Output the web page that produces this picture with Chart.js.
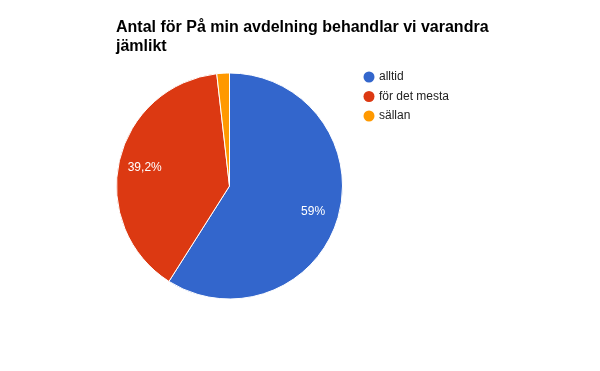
<!DOCTYPE html>
<html>
<head>
<meta charset="utf-8">
<script src="https://cdn.jsdelivr.net/npm/chart.js@4/dist/chart.umd.min.js"></script>
<style>
html,body{margin:0;padding:0;background:#fff;}
#wrap{position:relative;width:600px;height:371px;}
canvas{display:block;}
</style>
</head>
<body>
<div id="wrap"><canvas id="c" width="600" height="371"></canvas></div>
<script>
const titleLines = ["Antal för På min avdelning behandlar vi varandra", "jämlikt"];
const categories = ["alltid", "för det mesta", "sällan"];
const values = [59, 39.2, 1.8];
const valueLabels = ["59%", "39,2%", ""];
const colors = ["#3366cc", "#dc3912", "#ff9900"];

const FONT = '"Liberation Sans", Arial, sans-serif';

const decor = {
  id: 'decor',
  afterDraw(chart) {
    const ctx = chart.ctx;
    ctx.save();
    // title
    ctx.fillStyle = '#000';
    ctx.font = 'bold 16px ' + FONT;
    ctx.textAlign = 'left';
    ctx.textBaseline = 'alphabetic';
    titleLines.forEach((t, i) => ctx.fillText(t, 116, 32 + i * 19));
    // legend
    ctx.font = '12px ' + FONT;
    ctx.textBaseline = 'middle';
    categories.forEach((c, i) => {
      const y = 77 + i * 19.5;
      ctx.fillStyle = colors[i];
      ctx.beginPath();
      ctx.arc(369, y, 5.5, 0, Math.PI * 2);
      ctx.fill();
      ctx.fillStyle = '#222';
      ctx.fillText(c, 379, y);
    });
    // slice labels
    const meta = chart.getDatasetMeta(0);
    ctx.fillStyle = '#fff';
    ctx.textAlign = 'center';
    meta.data.forEach((arc, i) => {
      if (!valueLabels[i]) return;
      const p = arc.getProps(['x', 'y', 'startAngle', 'endAngle', 'outerRadius'], true);
      const mid = (p.startAngle + p.endAngle) / 2;
      const r = p.outerRadius * 0.77;
      ctx.fillText(valueLabels[i], p.x + Math.cos(mid) * r, p.y + Math.sin(mid) * r + 1.5);
    });
    ctx.restore();
  }
};

new Chart(document.getElementById('c'), {
  type: 'pie',
  data: {
    labels: categories,
    datasets: [{
      data: values,
      backgroundColor: colors,
      borderColor: '#ffffff',
      borderWidth: 1
    }]
  },
  options: {
    responsive: false,
    animation: false,
    layout: { padding: { left: 116, right: 257, top: 72, bottom: 71 } },
    plugins: {
      legend: { display: false },
      title: { display: false },
      tooltip: { enabled: false }
    }
  },
  plugins: [decor]
});
</script>
</body>
</html>
